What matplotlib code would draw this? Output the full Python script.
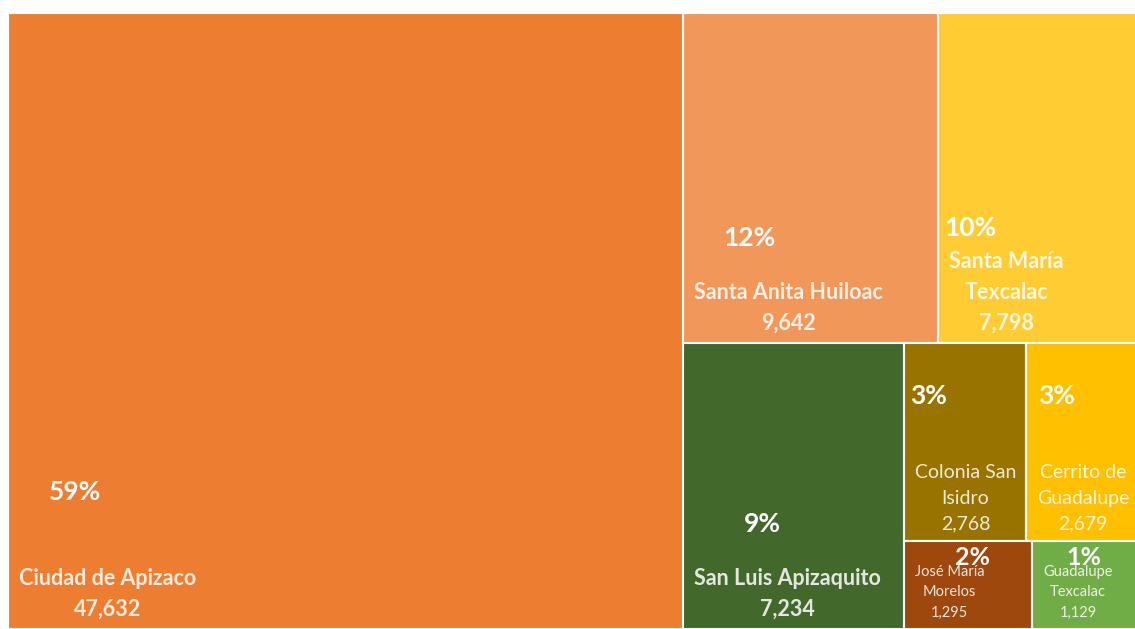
import matplotlib
matplotlib.use("Agg")
import matplotlib.pyplot as plt
from matplotlib.patches import Rectangle

# data
names = ["Ciudad de Apizaco", "Santa Anita Huiloac", "Santa María\nTexcalac",
         "San Luis Apizaquito", "Colonia San\nIsidro", "Cerrito de\nGuadalupe",
         "José María\nMorelos", "Guadalupe\nTexcalac"]
population = [47632, 9642, 7798, 7234, 2768, 2679, 1295, 1129]

# styles
colors = ["#ED7D31", "#F1975A", "#FFCD33", "#43682B",
          "#997300", "#FFC000", "#9E480E", "#70AD47"]
name_sizes = [15.5, 15.5, 15.5, 15.5, 14, 14, 10.5, 10.5]
name_weights = ["bold", "bold", "bold", "bold", "normal", "normal", "normal", "normal"]
# percent label offsets (pixels) from each box's top-left corner
pct_offsets = [(67, 479), (66, 225), (32, 215), (79, 181),
               (25, 53), (31, 53), (69, 17), (52, 17)]
pct_sizes = [19, 19, 19, 19, 19, 19, 18, 18]

# plot area is a bit wider than the saved picture (cut at the right)
W, H = 1136, 616


def worst(row, side):
    s = sum(row)
    return max(max(side * side * r / (s * s), (s * s) / (side * side * r)) for r in row)


def squarify(values, x, y, w, h):
    total = sum(values)
    vals = [v * w * h / total for v in values]
    rects = []
    while vals:
        side = min(w, h)
        row = [vals[0]]
        i = 1
        while i < len(vals) and worst(row + [vals[i]], side) <= worst(row, side):
            row.append(vals[i])
            i += 1
        s = sum(row)
        if w >= h:
            cw = s / h
            yy = y
            for v in row:
                rh = v / cw
                rects.append((x, yy, cw, rh))
                yy += rh
            x += cw
            w -= cw
        else:
            rh = s / w
            xx = x
            for v in row:
                rw = v / rh
                rects.append((xx, y, rw, rh))
                xx += rw
            y += rh
            h -= rh
        vals = vals[i:]
    return rects


rects = squarify(population, 0, 0, W, H)
total = sum(population)

plt.rcParams['font.family'] = ['Lato', 'DejaVu Sans']
fig = plt.figure(figsize=(11.35, 6.29), dpi=100)
ax = fig.add_axes([8 / 1135, 0, W / 1135, H / 629])
ax.set_xlim(0, W)
ax.set_ylim(H, 0)
ax.axis("off")

for (x, y, w, h), name, val, color, ns, nw, (dx, dy), ps in zip(
        rects, names, population, colors, name_sizes, name_weights, pct_offsets, pct_sizes):
    ax.add_patch(Rectangle((x, y), w, h, facecolor=color, edgecolor="white", linewidth=1.5))
    ax.text(x + 11, y + h - 9, f"{name}\n{val:,}", ha="left", va="bottom",
            multialignment="center", color="white", alpha=0.85,
            fontsize=ns, fontweight=nw, linespacing=1.6, clip_on=False)
    ax.text(x + dx, y + dy, f"{round(100 * val / total)}%", ha="center", va="center",
            color="white", fontsize=ps, fontweight="bold")

fig.savefig("out.png", dpi=100)
